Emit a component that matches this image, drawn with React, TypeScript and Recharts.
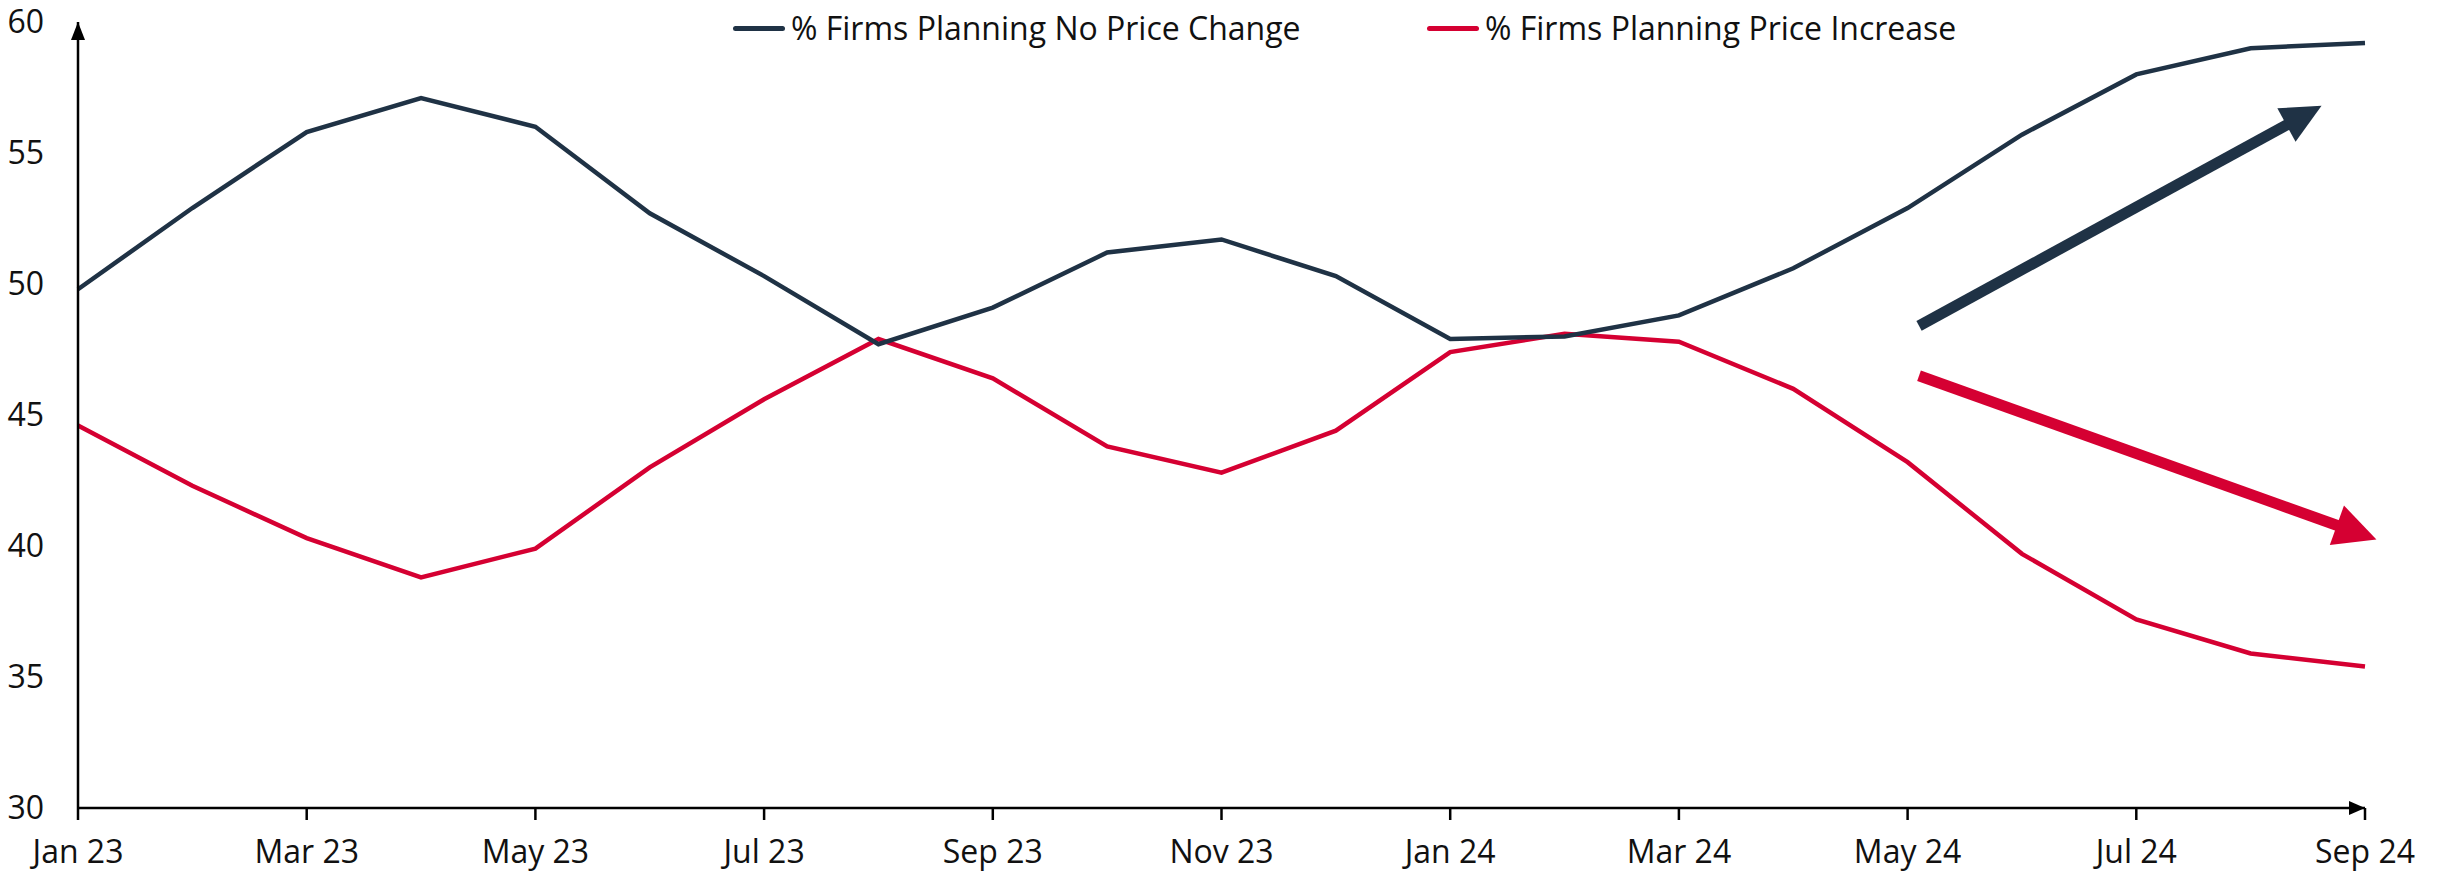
import { LineChart, Line, XAxis, YAxis, ReferenceLine, Legend } from 'recharts';

const NAVY = '#1f3245';
const RED = '#d50032';
const FONT = '"Open Sans", sans-serif';

const months = [
  'Jan 23', 'Feb 23', 'Mar 23', 'Apr 23', 'May 23', 'Jun 23', 'Jul 23', 'Aug 23', 'Sep 23', 'Oct 23', 'Nov 23', 'Dec 23',
  'Jan 24', 'Feb 24', 'Mar 24', 'Apr 24', 'May 24', 'Jun 24', 'Jul 24', 'Aug 24', 'Sep 24',
];

const noPriceChange = [
  49.8, 52.9, 55.8, 57.1, 56.0, 52.7, 50.3, 47.7, 49.1, 51.2, 51.7, 50.3,
  47.9, 48.0, 48.8, 50.6, 52.9, 55.7, 58.0, 59.0, 59.2,
];

const priceIncrease = [
  44.6, 42.3, 40.3, 38.8, 39.9, 43.0, 45.6, 47.9, 46.4, 43.8, 42.8, 44.4,
  47.4, 48.1, 47.8, 46.0, 43.2, 39.7, 37.2, 35.9, 35.4,
];

const xTicks = [0, 2, 4, 6, 8, 10, 12, 14, 16, 18, 20];
const yTicks = [30, 35, 40, 45, 50, 55, 60];

// trend arrows, in data units (month index, percent)
const upArrow = [{ x: 16.1, y: 48.4 }, { x: 19.62, y: 56.8 }];
const downArrow = [{ x: 16.1, y: 46.5 }, { x: 20.1, y: 40.25 }];

const data = months.map((label, i) => ({
  idx: i,
  label,
  noChange: noPriceChange[i],
  increase: priceIncrease[i],
}));

function arrowShape(color: string, width: number, headLen: number, headHalf: number, shaft = true) {
  return (props: any) => {
    const { x1, y1, x2, y2 } = props;
    const len = Math.hypot(x2 - x1, y2 - y1) || 1;
    const ux = (x2 - x1) / len;
    const uy = (y2 - y1) / len;
    const bx = x2 - ux * headLen;
    const by = y2 - uy * headLen;
    const pts = [
      `${x2},${y2}`,
      `${bx - uy * headHalf},${by + ux * headHalf}`,
      `${bx + uy * headHalf},${by - ux * headHalf}`,
    ].join(' ');
    return (
      <g>
        {shaft && <line x1={x1} y1={y1} x2={bx + ux * 2} y2={by + uy * 2} stroke={color} strokeWidth={width} />}
        <polygon points={pts} fill={color} />
      </g>
    );
  };
}

function LegendContent() {
  const item = (color: string, text: string, left: number) => (
    <div style={{ position: 'absolute', left, top: 0, display: 'flex', alignItems: 'center', whiteSpace: 'nowrap' }}>
      <span style={{ display: 'inline-block', width: 52, height: 5, borderRadius: 3, background: color, marginRight: 6 }} />
      <span style={{ fontFamily: FONT, fontSize: 32, color: '#111', lineHeight: '42px' }}>{text}</span>
    </div>
  );
  return (
    <div style={{ position: 'relative', height: 42 }}>
      {item(NAVY, '% Firms Planning No Price Change', 0)}
      {item(RED, '% Firms Planning Price Increase', 694)}
    </div>
  );
}

export default function App() {
  return (
    <div style={{ width: 2446, height: 876, background: '#fff' }}>
      <style>{'body{margin:0}'}</style>
      <LineChart
        width={2446}
        height={876}
        data={data}
        margin={{ top: 22, right: 81, bottom: 0, left: 0 }}
      >
        <XAxis
          dataKey="idx"
          type="number"
          domain={[0, 20]}
          ticks={xTicks}
          tickFormatter={(v: number) => months[v]}
          height={68}
          tickSize={12}
          tickMargin={20}
          axisLine={{ stroke: '#000', strokeWidth: 2.5 }}
          tickLine={{ stroke: '#000', strokeWidth: 2.5 }}
          tick={{ fill: '#111', fontSize: 32, fontFamily: FONT }}
        />
        <YAxis
          domain={[30, 60]}
          ticks={yTicks}
          width={78}
          tickLine={false}
          tickSize={0}
          tickMargin={34}
          axisLine={{ stroke: '#000', strokeWidth: 2.5 }}
          tick={{ fill: '#111', fontSize: 32, fontFamily: FONT }}
        />
        <Legend
          verticalAlign="middle"
          content={<LegendContent />}
          wrapperStyle={{ top: 7, left: 733, width: 1300, height: 42 }}
        />
        <Line
          type="linear"
          dataKey="increase"
          stroke={RED}
          strokeWidth={4.5}
          dot={false}
          isAnimationActive={false}
        />
        <Line
          type="linear"
          dataKey="noChange"
          stroke={NAVY}
          strokeWidth={4.5}
          dot={false}
          isAnimationActive={false}
        />
        {/* axis arrowheads */}
        <ReferenceLine
          segment={[{ x: 0, y: 59 }, { x: 0, y: 60 }]}
          ifOverflow="visible"
          shape={arrowShape('#000', 2.5, 18, 7, false)}
        />
        <ReferenceLine
          segment={[{ x: 19, y: 30 }, { x: 20, y: 30 }]}
          ifOverflow="visible"
          shape={arrowShape('#000', 2.5, 16, 7, false)}
        />
        {/* trend arrows */}
        <ReferenceLine
          segment={upArrow}
          ifOverflow="visible"
          shape={arrowShape(NAVY, 11, 40, 19)}
        />
        <ReferenceLine
          segment={downArrow}
          ifOverflow="visible"
          shape={arrowShape(RED, 11, 42, 21)}
        />
      </LineChart>
    </div>
  );
}
